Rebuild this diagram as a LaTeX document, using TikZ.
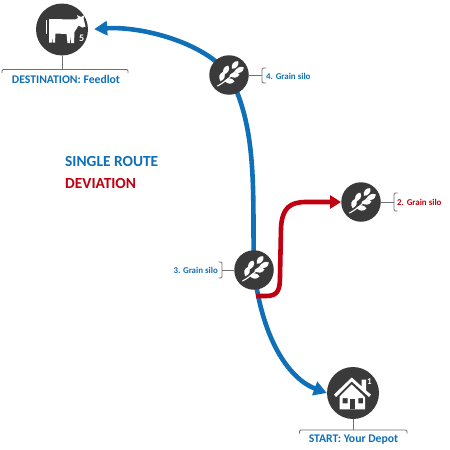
\documentclass[tikz,border=0pt]{standalone}
\usepackage{fontspec}
\setmainfont{Carlito}
\usetikzlibrary{arrows.meta,backgrounds}
\definecolor{routeblue}{HTML}{0F6FB7}
\definecolor{devred}{HTML}{C00010}
\definecolor{disc}{HTML}{3A3A3A}
\definecolor{brk}{HTML}{707070}
\newcommand{\leafat}[3]{\fill[white,shift={(#1,#2)},rotate=#3] (-5,0) .. controls (-2,-3.6) and (2.5,-3.6) .. (5,0) .. controls (2.5,3.6) and (-2,3.6) .. (-5,0) -- cycle;}
\tikzset{
  x=1pt,y=-1pt,
  stop/.style={circle,fill=disc,inner sep=0pt,draw=none},
  small/.style={stop,minimum size=39.5pt},
  big/.style={stop,minimum size=52pt},
  bluetxt/.style={text=routeblue,font=\bfseries\fontsize{8.9}{9}\selectfont,inner sep=0pt},
  redtxt/.style={text=devred,font=\bfseries\fontsize{8.9}{9}\selectfont,inner sep=0pt},
  endtxt/.style={text=routeblue,font=\bfseries\fontsize{11.7}{12}\selectfont,inner sep=0pt},
  headtxt/.style={font=\bfseries\fontsize{15.4}{16}\selectfont,inner sep=0pt,anchor=west},
  route/.style={line width=4.6pt,line cap=butt},
  brack/.style={draw=brk,line width=0.9pt,rounded corners=1.2pt},
  wheat/.pic={
    \draw[white,line width=1.1pt,line cap=round] (-11.5,11) .. controls (-4,7) and (3,1) .. (8,-6);
    \leafat{6}{-10}{50}
    \leafat{10.5}{-5}{30}
    \leafat{5.5}{0}{5}
    \leafat{-3}{-5}{62}
    \leafat{0.5}{6}{-5}
    \leafat{-7}{1.5}{72}
  }
}
\begin{document}
\begin{tikzpicture}
\useasboundingbox (0,0) rectangle (450,450);
% stops
\node[big] (cow) at (62,29.5) {};
\node[small] (silo4) at (229,75) {};
\node[small] (silo2) at (361,202) {};
\node[small] (silo3) at (254,270) {};
\node[big] (house) at (353,393) {};
% coordinates
\coordinate (redstart) at (256,296);
\coordinate (cowb) at (62,69.5);
\coordinate (houseb) at (353,430);
\coordinate (s4b) at (262,75);
\coordinate (s2b) at (394,202);
\coordinate (s3b) at (222,270);
% routes
\begin{scope}[on background layer]
\fill[white] (0,0) rectangle (450,450);
\draw[route,routeblue,{Triangle[length=13pt,width=14pt]}-{Triangle[length=13pt,width=14pt]},shorten >=6pt]
  (house.west) .. controls (292,380) and (263,345) .. (silo3.center)
  .. controls (252,200) and (259,130) .. (silo4.center)
  .. controls (205,42) and (140,26) .. (cow.east);
\draw[route,devred,-{Triangle[length=11pt,width=13pt]}]
  (redstart) -- (266,296) .. controls (278,296) and (280,290) .. (280,276)
  -- (281,228) .. controls (282,208) and (290,202) .. (306,202) -- (silo2.west);
\end{scope}
% brackets
\draw[brack] (cow.south) -- (cowb);
\draw[brack] (2,73) -- (2,69.5) -- (128,69.5) -- (128,73);
\draw[brack] (house.south) -- (houseb);
\draw[brack] (299.5,433.5) -- (299.5,430) -- (407,430) -- (407,433.5);
\draw[brack] (silo4.east) -- (s4b);
\draw[brack] (266,68) -- (262,68) -- (262,83) -- (266,83);
\draw[brack] (silo2.east) -- (s2b);
\draw[brack] (397.5,193) -- (394,193) -- (394,211) -- (397.5,211);
\draw[brack] (silo3.west) -- (s3b);
\draw[brack] (218.5,262) -- (222,262) -- (222,278) -- (218.5,278);
% icons
\pic at (silo4) {wheat};
\pic at (silo2) {wheat};
\pic at (silo3) {wheat};
% cow
\fill[white] (49,19) -- (75,19.5) -- (78,18) -- (77,15) -- (80,16.5) -- (82,16.5) -- (84.5,15) -- (83.5,18.5) -- (85.5,26.5) -- (82.5,27.5) -- (78.5,25.5)
 -- (74.5,32) -- (74,43) -- (71,43) -- (70.3,35) -- (69.8,43) -- (67.5,43) -- (66.5,34) -- (55.5,33.5) -- (55,42.7) -- (52.7,42.7) -- (52.2,36) -- (51.7,42.7) -- (49,42.7) -- cycle;
\fill[white] (45.7,20) rectangle (47.2,33.5);
\node[text=white,font=\bfseries\fontsize{10}{10}\selectfont,inner sep=0pt] (cownum) at (81.7,38.6) {5};
% house
\fill[white] (334,394.5) -- (351.7,377.5) -- (361.7,386.5) -- (361.7,379.5) -- (366,379.5) -- (366,390.5) -- (371,394.5) -- (369,397) -- (351.7,381.5) -- (336,397) -- cycle;
\fill[white,even odd rule] (351.7,384.5) -- (339.5,396.5) -- (339.5,409.3) -- (365,409.3) -- (365,397) -- cycle
  (342.7,398) rectangle (347.5,403.3) (358.3,398) rectangle (363,403.3);
\fill[disc] (350,399) rectangle (355,409.3);
\node[text=white,font=\bfseries\fontsize{9}{9}\selectfont,inner sep=0pt] (housenum) at (369.5,381.5) {1};
% labels
\node[endtxt] (cowlabel) at (66,79) {DESTINATION: Feedlot};
\node[endtxt] (houselabel) at (353.5,440) {START: Your Depot};
\node[bluetxt,anchor=west] (s4label) at (266,76) {4. Grain silo};
\node[redtxt,anchor=west] (s2label) at (397,202) {2. Grain silo};
\node[bluetxt,anchor=east] (s3label) at (218,270.5) {3. Grain silo};
\node[headtxt,text=routeblue] (single) at (65,162) {SINGLE ROUTE};
\node[headtxt,text=devred] (dev) at (65,184) {DEVIATION};
\end{tikzpicture}
\end{document}
